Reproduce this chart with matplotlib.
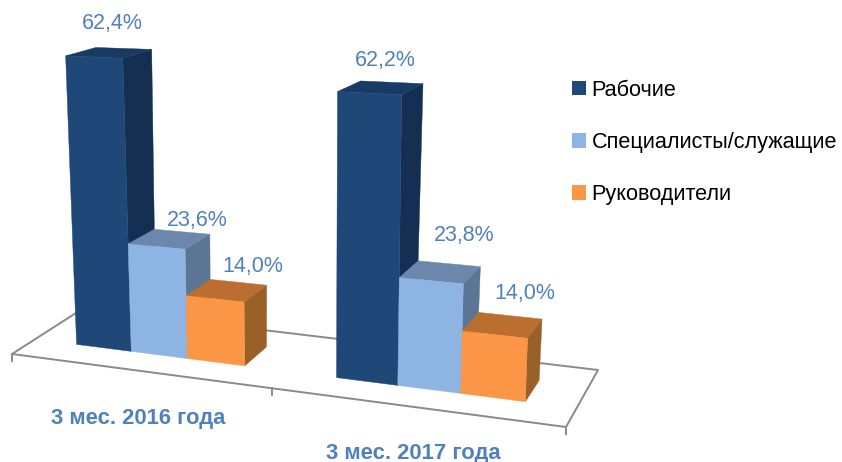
import numpy as np
import matplotlib
matplotlib.use('Agg')
import matplotlib.pyplot as plt
from matplotlib.patches import Patch, Polygon

plt.rcParams['font.family'] = ['Liberation Sans', 'DejaVu Sans']

# ── data ─────────────────────────────────────────────────────────────────────

categories = ['3 мес. 2016 года', '3 мес. 2017 года']
series_names = ['Рабочие', 'Специалисты/служащие', 'Руководители']
workers = [62.4, 62.2]
specialists = [23.6, 23.8]
managers = [14.0, 14.0]

# ── style ────────────────────────────────────────────────────────────────────

FRONT = ['#1f4879', '#8db4e3', '#fa9645']
TOP = ['#183a64', '#6b87ac', '#ba6f31']
SIDE = ['#152f52', '#5b7595', '#99602a']
LABEL_COLOR = '#4f81bd'
AXIS_COLOR = '#8a8a8a'

GAP = 0.17      # empty part of a category on each side
D_FRONT = 0.31  # bar depth range on the floor
D_BACK = 0.69
Z_BASE = 0.5    # the value axis does not quite start at the floor

# pixel offset of each value label from the centre of the bar top
LABEL_OFFSETS = [[(3, -32), (28, -19), (26, -24)],
                 [(5, -30), (24, -37), (22, -32)]]
CATEGORY_OFFSETS = [(0, 48), (-1, 46)]

# ── projection: floor homography + vertical vanishing point ──────────────────

FLOOR_PX = [(12, 354), (566, 427), (598, 370), (83, 308.5)]
FLOOR_UV = [(0, 0), (2, 0), (2, 1), (0, 1)]
VANISH = np.array([314.0, 6600.0])
Z_SCALE = 0.000745
DEPTH_LIFT = np.array([0.13, 0.42])  # tops get flatter the higher they are
WIDTH_LIFT = 0.36


def fit_homography(src, dst):
    a, b = [], []
    for (u, v), (x, y) in zip(src, dst):
        a.append([u, v, 1, 0, 0, 0, -u * x, -v * x])
        a.append([0, 0, 0, u, v, 1, -u * y, -v * y])
        b += [x, y]
    h = np.linalg.solve(np.array(a, float), np.array(b, float))
    return np.append(h, 1).reshape(3, 3)


H = fit_homography(FLOOR_UV, FLOOR_PX)


def project(s, d, z=None, s0=None):
    p = H @ np.array([s, d, 1.0])
    p = p[:2] / p[2]
    if z is not None:
        p = p + (p - VANISH) * Z_SCALE * (z - Z_BASE)
        p = p + DEPTH_LIFT * (d - D_FRONT) * z
        if s0 is not None:
            p[1] -= WIDTH_LIFT * (s - s0) * z
    return p


def draw_bar(ax, s0, s1, value, k):
    top = lambda s, d: project(s, d, value, s0)
    base = lambda s, d: project(s, d)
    side = [base(s1, D_FRONT), base(s1, D_BACK), top(s1, D_BACK), top(s1, D_FRONT)]
    roof = [top(s0, D_FRONT), top(s1, D_FRONT), top(s1, D_BACK), top(s0, D_BACK)]
    front = [base(s0, D_FRONT), base(s1, D_FRONT), top(s1, D_FRONT), top(s0, D_FRONT)]
    for pts, col in [(side, SIDE[k]), (roof, TOP[k]), (front, FRONT[k])]:
        ax.add_patch(Polygon(pts, closed=True, facecolor=col, edgecolor=col, linewidth=0.3))


# ── figure ───────────────────────────────────────────────────────────────────

fig = plt.figure(figsize=(8.42, 4.62), dpi=100)
ax = fig.add_axes([0, 0, 1, 1])
ax.set_xlim(0, 842)
ax.set_ylim(462, 0)
ax.axis('off')

# floor outline and ticks
outline = [project(u, v) for u, v in FLOOR_UV]
xs, ys = zip(*(outline + outline[:1]))
ax.plot(xs, ys, color=AXIS_COLOR, linewidth=1.4, zorder=1)
for i in range(len(categories) + 1):
    x, y = project(i, 0)
    ax.plot([x, x], [y, y + 7], color=AXIS_COLOR, linewidth=1.4, zorder=1)

# bars
values = [workers, specialists, managers]
bar_w = (1 - 2 * GAP) / len(values)
for i, cat in enumerate(categories):
    for k, vals in enumerate(values):
        s0 = i + GAP + k * bar_w
        s1 = s0 + bar_w
        draw_bar(ax, s0, s1, vals[i], k)
        cx, cy = project((s0 + s1) / 2, (D_FRONT + D_BACK) / 2, vals[i])
        dx, dy = LABEL_OFFSETS[i][k]
        ax.text(cx + dx, cy + dy, f'{vals[i]:.1f}%'.replace('.', ','),
                color=LABEL_COLOR, fontsize=15.5, ha='center', va='center')
    cx, cy = project(i + 0.5, 0)
    dx, dy = CATEGORY_OFFSETS[i]
    ax.text(cx + dx, cy + dy, cat, color=LABEL_COLOR, fontsize=15.8,
            fontweight='bold', ha='center', va='center')

# legend
handles = [Patch(facecolor=c, edgecolor='none') for c in FRONT]
ax.legend(handles, series_names, loc='upper left', bbox_to_anchor=(565, 73),
          bbox_transform=ax.transData, frameon=False, fontsize=15.6,
          handlelength=0.65, handleheight=0.65, handletextpad=0.28,
          labelspacing=1.45, borderpad=0.3, borderaxespad=0)

fig.savefig('out.png', dpi=100)
